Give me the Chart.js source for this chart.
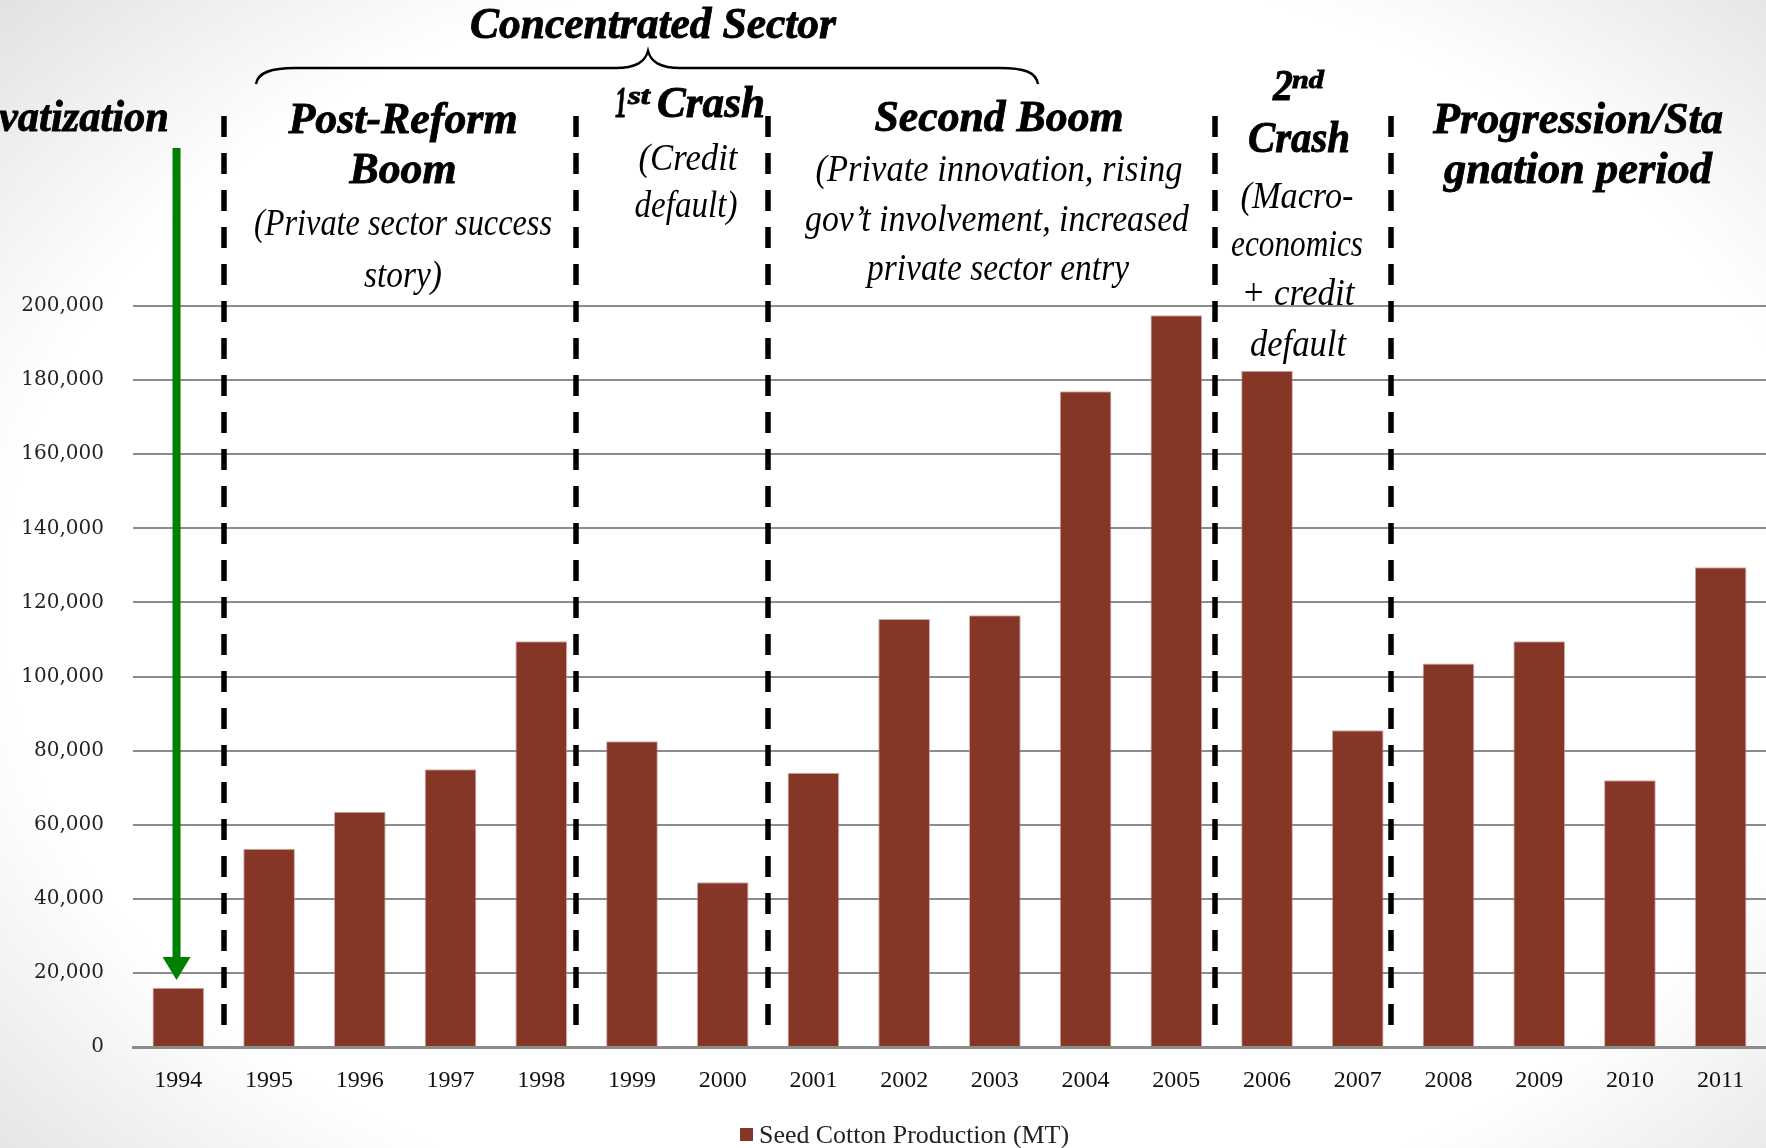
<!DOCTYPE html>
<html><head><meta charset="utf-8">
<script src="https://cdn.jsdelivr.net/npm/chart.js@4"></script>
<style>
html,body{margin:0;padding:0;width:1766px;height:1148px;overflow:hidden;
background: radial-gradient(ellipse 72% 78% at 52% 52%, #ffffff 72%, #e0e0e0 100%);}
canvas{position:absolute;left:0;top:0;}
</style></head><body>
<canvas id="c" width="1766" height="1148"></canvas>
<script>
const years = ['1994','1995','1996','1997','1998','1999','2000','2001','2002','2003','2004','2005','2006','2007','2008','2009','2010','2011'];
const production = [16000,53500,63500,75000,109500,82500,44500,74000,115500,116500,177000,197500,182500,85500,103500,109500,72000,129500];
const yMin = 0, yMax = 200000, yStep = 20000;
const seriesLabel = 'Seed Cotton Production (MT)';
const dividerPositions = [0.5, 4.38, 6.5, 11.43, 13.37];

const BAR = '#853626';
const TITLE = 'bold italic 45px "Liberation Serif"';
const SUP = 'bold italic 25px "Liberation Serif"';
const SUB = 'italic 37px "Liberation Serif"';

function txt(ctx, s, cx, by, font, w, heavy){
  ctx.save();
  ctx.font = font;
  const m = ctx.measureText(s).width;
  ctx.translate(cx, by);
  ctx.scale(w / m, 1);
  ctx.textAlign = 'center';
  ctx.textBaseline = 'alphabetic';
  ctx.fillText(s, 0, 0);
  if (heavy) { ctx.lineWidth = 0.9; ctx.strokeStyle = '#000'; ctx.strokeText(s, 0, 0); }
  ctx.restore();
}

const annot = {
  id: 'annot',
  afterDatasetsDraw(chart){
    const ctx = chart.ctx, xs = chart.scales.x;
    ctx.save();
    // dashed dividers
    ctx.strokeStyle = '#000'; ctx.lineWidth = 5.5; ctx.setLineDash([21, 16]);
    dividerPositions.forEach(p => {
      const x = Math.round(xs.getPixelForValue(p));
      ctx.beginPath(); ctx.moveTo(x, 116); ctx.lineTo(x, 1032); ctx.stroke();
    });
    ctx.setLineDash([]);
    // green arrow
    const ax = xs.getPixelForValue(-0.02);
    const tip = 980;
    ctx.strokeStyle = '#008000'; ctx.fillStyle = '#008000'; ctx.lineWidth = 8;
    ctx.beginPath(); ctx.moveTo(ax, 148); ctx.lineTo(ax, tip - 18); ctx.stroke();
    ctx.beginPath(); ctx.moveTo(ax, tip); ctx.lineTo(ax - 14, tip - 23); ctx.lineTo(ax + 14, tip - 23); ctx.closePath(); ctx.fill();
    // brace
    ctx.strokeStyle = '#000'; ctx.lineWidth = 2.5;
    ctx.beginPath();
    ctx.moveTo(256, 84);
    ctx.bezierCurveTo(258, 72, 272, 68, 295, 68);
    ctx.lineTo(615, 68);
    ctx.bezierCurveTo(636, 68, 645, 62, 648, 51);
    ctx.bezierCurveTo(651, 62, 660, 68, 681, 68);
    ctx.lineTo(1000, 68);
    ctx.bezierCurveTo(1024, 68, 1036, 72, 1038, 84);
    ctx.stroke();
    // texts
    ctx.fillStyle = '#000';
    txt(ctx, 'Concentrated Sector', 653, 38, TITLE, 366, true);
    ctx.save(); ctx.font = TITLE;
    const mv = ctx.measureText('vatization').width;
    ctx.translate(169, 131); ctx.scale(170 / mv, 1); ctx.textAlign = 'right';
    ctx.fillText('Privatization', 0, 0); ctx.lineWidth = 0.9; ctx.strokeText('Privatization', 0, 0);
    ctx.restore();
    // Post-Reform Boom
    txt(ctx, 'Post-Reform', 403, 133, TITLE, 229, true);
    txt(ctx, 'Boom', 403, 183, TITLE, 107, true);
    txt(ctx, '(Private sector success', 403, 235, SUB, 298);
    txt(ctx, 'story)', 403, 287, SUB, 78);
    // 1st Crash
    txt(ctx, '1', 621, 117, TITLE, 12, true);
    txt(ctx, 'st', 639, 104, SUP, 22, true);
    txt(ctx, 'Crash', 711, 117, TITLE, 108, true);
    txt(ctx, '(Credit', 688, 170, SUB, 99);
    txt(ctx, 'default)', 686, 217, SUB, 103);
    // Second Boom
    txt(ctx, 'Second Boom', 999, 131, TITLE, 249, true);
    txt(ctx, '(Private innovation, rising', 999, 181, SUB, 367);
    txt(ctx, 'gov\u2019t involvement, increased', 997, 231, SUB, 384);
    txt(ctx, 'private sector entry', 998, 280, SUB, 262);
    // 2nd Crash
    txt(ctx, '2', 1283, 100, TITLE, 20, true);
    txt(ctx, 'nd', 1308, 88, SUP, 32, true);
    txt(ctx, 'Crash', 1299, 152, TITLE, 102, true);
    txt(ctx, '(Macro-', 1297, 208, SUB, 113);
    txt(ctx, 'economics', 1297, 256, SUB, 132);
    txt(ctx, '+ credit', 1298, 305, SUB, 113);
    txt(ctx, 'default', 1298, 356, SUB, 96);
    // Progression
    txt(ctx, 'Progression/Sta', 1578, 133, TITLE, 290, true);
    txt(ctx, 'gnation period', 1578, 183, TITLE, 268, true);
    // legend
    const ds = chart.data.datasets[0];
    ctx.fillStyle = ds.backgroundColor;
    ctx.fillRect(740, 1128, 13, 13);
    ctx.fillStyle = '#222';
    ctx.save(); ctx.font = '26px "Liberation Serif"';
    const lw = ctx.measureText(ds.label).width;
    ctx.translate(759, 1143); ctx.scale(310 / lw, 1); ctx.textAlign = 'left'; ctx.fillText(ds.label, 0, 0);
    ctx.restore();
    ctx.restore();
  }
};

new Chart(document.getElementById('c'), {
  type: 'bar',
  data: {
    labels: years,
    datasets: [{
      label: seriesLabel,
      data: production,
      backgroundColor: BAR,
      borderColor: 'rgba(190,140,128,0.7)',
      borderWidth: { top: 1, left: 1, right: 1, bottom: 0 },
      borderSkipped: 'start',
      barPercentage: 0.57,
      categoryPercentage: 1.0
    }]
  },
  options: {
    responsive: false,
    animation: false,
    devicePixelRatio: 1,
    layout: { padding: { top: 306, right: 0, left: 0, bottom: 0 } },
    plugins: {
      legend: { display: false },
      tooltip: { enabled: false }
    },
    scales: {
      x: {
        grid: { display: false },
        border: { display: true, color: '#8c8c8c', width: 3 },
        ticks: { color: '#111', padding: 11, font: { family: '"Liberation Serif"', size: 24 } },
        afterFit(s){ s.height = 101; }
      },
      y: {
        min: yMin, max: yMax,
        grid: { color: '#8c8c8c', lineWidth: 2, drawTicks: false },
        border: { display: false },
        ticks: { stepSize: yStep, padding: 29, color: '#222', font: { family: '"DejaVu Serif"', size: 20 } },
        afterFit(s){ s.width = 133; }
      }
    }
  },
  plugins: [annot]
});
</script>
</body></html>
